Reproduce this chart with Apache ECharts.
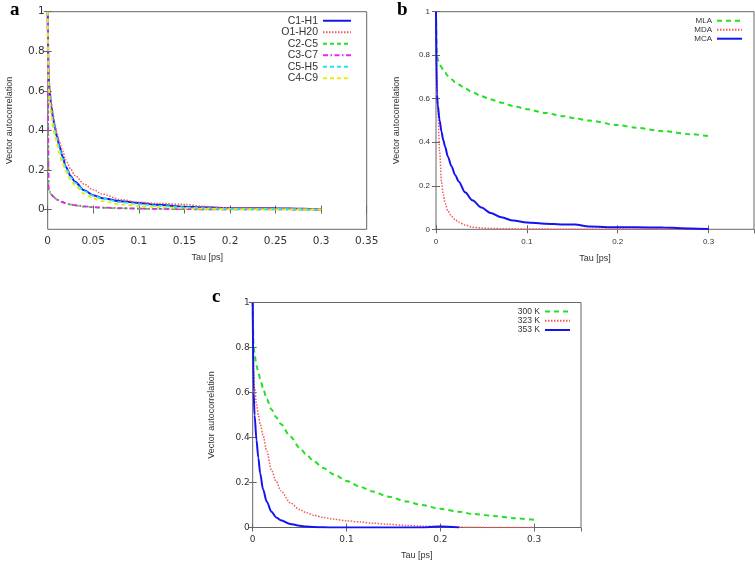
<!DOCTYPE html>
<html><head><meta charset="utf-8">
<script src="https://cdn.jsdelivr.net/npm/echarts@6/dist/echarts.min.js"></script>
<style>html,body{margin:0;padding:0;background:#fff}#c{width:755px;height:564px}</style>
</head><body><div id="c"></div>
<script>
// ---------- Panel a ----------
const tauA = [0, 0.001, 0.002, 0.004, 0.006, 0.008, 0.01, 0.013, 0.016, 0.02, 0.025, 0.03, 0.04, 0.05, 0.06, 0.08, 0.1, 0.12, 0.15, 0.17, 0.2, 0.25, 0.28, 0.3];
const c1h1 = [1, 0.68, 0.6, 0.52, 0.46, 0.41, 0.37, 0.32, 0.27, 0.215, 0.17, 0.14, 0.097, 0.072, 0.057, 0.042, 0.033, 0.024, 0.014, 0.011, 0.007, 0.006, 0.004, 0];
const o1h20 = [1, 0.7, 0.62, 0.54, 0.48, 0.43, 0.39, 0.34, 0.3, 0.25, 0.205, 0.172, 0.128, 0.1, 0.078, 0.05, 0.037, 0.031, 0.026, 0.016, 0.008, 0.006, 0.004, 0];
const c2c5 = [1, 0.1, 0.09, 0.075, 0.065, 0.057, 0.05, 0.043, 0.037, 0.031, 0.025, 0.021, 0.015, 0.011, 0.009, 0.006, 0.004, 0.003, 0.002, 0.001, 0.001, 0.001, 0, 0];
const c3c7 = [1, 0.1, 0.091, 0.077, 0.066, 0.058, 0.051, 0.044, 0.038, 0.032, 0.026, 0.022, 0.016, 0.012, 0.01, 0.007, 0.005, 0.003, 0.002, 0.001, 0.001, 0.001, 0, 0];
const c5h5 = [1, 0.66, 0.58, 0.5, 0.44, 0.4, 0.36, 0.31, 0.26, 0.21, 0.165, 0.135, 0.093, 0.07, 0.055, 0.037, 0.027, 0.019, 0.011, 0.007, 0.003, 0.003, 0, -0.002];
const c4c9 = [1, 0.62, 0.55, 0.47, 0.41, 0.37, 0.33, 0.28, 0.235, 0.19, 0.15, 0.12, 0.08, 0.056, 0.042, 0.026, 0.018, 0.012, 0.007, 0.004, 0.002, 0.001, 0, 0];
const namesA = ['C1-H1', 'O1-H20', 'C2-C5', 'C3-C7', 'C5-H5', 'C4-C9'];

// ---------- Panel b ----------
const tauB = [0, 0.001, 0.002, 0.004, 0.006, 0.008, 0.01, 0.013, 0.017, 0.021, 0.025, 0.032, 0.04, 0.05, 0.06, 0.072, 0.085, 0.1, 0.12, 0.14, 0.153, 0.168, 0.2, 0.22, 0.25, 0.28, 0.3];
const mla = [1, 0.8, 0.78, 0.76, 0.745, 0.733, 0.72, 0.705, 0.69, 0.676, 0.665, 0.648, 0.63, 0.612, 0.597, 0.582, 0.567, 0.552, 0.535, 0.52, 0.51, 0.5, 0.479, 0.467, 0.451, 0.437, 0.428];
const mda = [1, 0.7, 0.55, 0.36, 0.22, 0.16, 0.12, 0.085, 0.06, 0.045, 0.032, 0.02, 0.01, 0.006, 0.004, 0.003, 0.002, 0.001, 0.001, 0, 0, 0, 0, 0, 0, 0, 0];
const mca = [1, 0.62, 0.57, 0.5, 0.45, 0.41, 0.38, 0.335, 0.29, 0.25, 0.22, 0.17, 0.133, 0.1, 0.075, 0.055, 0.04, 0.031, 0.026, 0.022, 0.022, 0.013, 0.009, 0.009, 0.008, 0.004, 0.001];
const namesB = ['MLA', 'MDA', 'MCA'];

// ---------- Panel c ----------
const tauC = [0, 0.001, 0.002, 0.004, 0.006, 0.008, 0.011, 0.015, 0.02, 0.025, 0.03, 0.04, 0.05, 0.057, 0.065, 0.075, 0.087, 0.1, 0.115, 0.128, 0.145, 0.164, 0.18, 0.2, 0.22, 0.235, 0.26, 0.28, 0.3];
const k300 = [1, 0.8, 0.77, 0.72, 0.69, 0.66, 0.62, 0.57, 0.525, 0.49, 0.46, 0.405, 0.355, 0.325, 0.295, 0.265, 0.235, 0.207, 0.18, 0.16, 0.137, 0.116, 0.1, 0.083, 0.07, 0.06, 0.05, 0.041, 0.034];
const k323 = [1, 0.7, 0.62, 0.55, 0.5, 0.46, 0.41, 0.34, 0.255, 0.205, 0.163, 0.11, 0.08, 0.066, 0.055, 0.045, 0.037, 0.03, 0.024, 0.019, 0.014, 0.009, 0.006, 0.004, 0.002, 0.001, 0, 0, 0];
const k353 = [1, 0.6, 0.5, 0.39, 0.31, 0.24, 0.17, 0.115, 0.07, 0.045, 0.032, 0.016, 0.008, 0.004, 0.002, 0.001, 0, 0, 0, 0, 0, 0, 0, 0.004, 0, null, null, null, null];
const namesC = ['300 K', '323 K', '353 K'];

const ticks01 = [0, 0.2, 0.4, 0.6, 0.8, 1];

function pairs(xs, ys) { return xs.map((x, i) => [x, ys[i]]); }

const GRAY = '#666';
const TXT = '#333';
const tickStyle = { show: true, inside: true, length: 4, lineStyle: { color: GRAY, width: 1 } };

function xAxes(gi, interval, lblSize, lblFam, margin, nameSize, nameGap, showMax) {
  return [
    { gridIndex: gi, type: 'value', min: 0, max: 0.35, interval: interval,
      name: 'Tau [ps]', nameLocation: 'middle', nameGap: nameGap,
      nameTextStyle: { fontSize: nameSize, color: TXT, fontFamily: 'Liberation Sans' },
      axisLine: { show: false }, axisTick: tickStyle, splitLine: { show: false },
      axisLabel: { fontSize: lblSize, color: TXT, fontFamily: lblFam, margin: margin, showMaxLabel: showMax, showMinLabel: true } },
    { gridIndex: gi, type: 'value', min: 0, max: 0.35, interval: interval, position: 'top',
      axisLine: { show: false }, axisTick: tickStyle, splitLine: { show: false }, axisLabel: { show: false } }
  ];
}
function yAxes(gi, min, lblSize, lblFam, margin, nameSize, nameGap) {
  const common = { gridIndex: gi, type: 'value', min: min, max: 1, splitLine: { show: false }, axisLine: { show: false } };
  return [
    Object.assign({}, common, {
      name: 'Vector autocorrelation', nameLocation: 'middle', nameGap: nameGap,
      nameTextStyle: { fontSize: nameSize, color: TXT, fontFamily: 'Liberation Sans' },
      axisTick: Object.assign({}, tickStyle, { customValues: ticks01 }),
      axisLabel: { fontSize: lblSize, color: TXT, fontFamily: lblFam, margin: margin, customValues: ticks01, formatter: v => String(+v.toFixed(2)) } }),
    Object.assign({}, common, { position: 'right',
      axisTick: Object.assign({}, tickStyle, { customValues: ticks01 }),
      axisLabel: { show: false } })
  ];
}

function line(name, xi, yi, data, color, width, type) {
  return { name: name, type: 'line', xAxisIndex: xi, yAxisIndex: yi, data: data,
    showSymbol: false, symbol: 'none', smooth: 0.3, smoothMonotone: 'x',
    lineStyle: { color: color, width: width, type: type }, itemStyle: { color: color },
    emphasis: { disabled: true }, z: 3 };
}

const BLUE = '#1414f0', RED = '#f25a5a', GREEN = '#22e022', MAG = '#ee22ee', CYAN = '#22e6f0', YEL = '#eaea10';

function legend(names, right, top, w, h, fs) {
  return { data: names.map(n => ({ name: n, itemStyle: { opacity: 0 } })), orient: 'vertical', align: 'right',
    right: right, top: top, padding: 0, itemWidth: w, itemHeight: h, itemGap: 0, selectedMode: false,
    itemStyle: { opacity: 0 },
    textStyle: { fontSize: fs, color: TXT, fontFamily: 'Liberation Sans', lineHeight: h } };
}

const option = {
  animation: false,
  backgroundColor: '#fff',
  grid: [
    { left: 47.7, top: 11.7, width: 319, height: 217.6, show: true, borderColor: GRAY, borderWidth: 1 },
    { left: 436, top: 11.7, width: 318, height: 217.6, show: true, borderColor: GRAY, borderWidth: 1 },
    { left: 252.7, top: 302.5, width: 328.3, height: 225, show: true, borderColor: GRAY, borderWidth: 1 }
  ],
  xAxis: [].concat(
    xAxes(0, 0.05, 10.5, 'DejaVu Sans', 6, 9, 24, true),
    xAxes(1, 0.1, 8, 'Liberation Sans', 8, 9, 25, false),
    xAxes(2, 0.1, 9, 'DejaVu Sans', 8, 9, 24, false)
  ),
  yAxis: [].concat(
    yAxes(0, -0.1, 10.5, 'DejaVu Sans', 3, 9, 34),
    yAxes(1, 0, 8, 'Liberation Sans', 6, 9, 35),
    yAxes(2, 0, 9, 'DejaVu Sans', 3, 9, 37)
  ),
  legend: [
    legend(namesA, 403, 15, 28, 11.5, 10.5),
    legend(namesB, 12, 16.2, 25, 9, 8),
    legend(namesC, 184, 307, 25, 9.2, 8.5)
  ],
  graphic: [
    { type: 'text', left: 10, top: 1, style: { text: 'a', font: 'bold 19px "Liberation Serif"', fill: '#000' } },
    { type: 'text', left: 397, top: 1, style: { text: 'b', font: 'bold 19px "Liberation Serif"', fill: '#000' } },
    { type: 'text', left: 212, top: 288, style: { text: 'c', font: 'bold 19px "Liberation Serif"', fill: '#000' } }
  ],
  series: [
    line(namesA[0], 0, 0, pairs(tauA, c1h1), BLUE, 2, 'solid'),
    line(namesA[1], 0, 0, pairs(tauA, o1h20), RED, 1.5, [1.5, 1.5]),
    line(namesA[2], 0, 0, pairs(tauA, c2c5), GREEN, 1.8, [4, 3]),
    line(namesA[3], 0, 0, pairs(tauA, c3c7), MAG, 1.8, [5, 2.5, 1.5, 2.5]),
    line(namesA[4], 0, 0, pairs(tauA, c5h5), CYAN, 1.8, [4, 3]),
    line(namesA[5], 0, 0, pairs(tauA, c4c9), YEL, 1.8, [4, 3]),

    line(namesB[0], 2, 2, pairs(tauB, mla), GREEN, 2, [5, 4]),
    line(namesB[1], 2, 2, pairs(tauB, mda), RED, 1.5, [1.5, 1.5]),
    line(namesB[2], 2, 2, pairs(tauB, mca), BLUE, 2, 'solid'),

    line(namesC[0], 4, 4, pairs(tauC, k300), GREEN, 2, [5, 4]),
    line(namesC[1], 4, 4, pairs(tauC, k323), RED, 1.5, [1.5, 1.5]),
    line(namesC[2], 4, 4, pairs(tauC, k353), BLUE, 2, 'solid')
  ]
};

const chart = echarts.init(document.getElementById('c'), null, { renderer: 'canvas' });
chart.setOption(option);
</script>
</body></html>
